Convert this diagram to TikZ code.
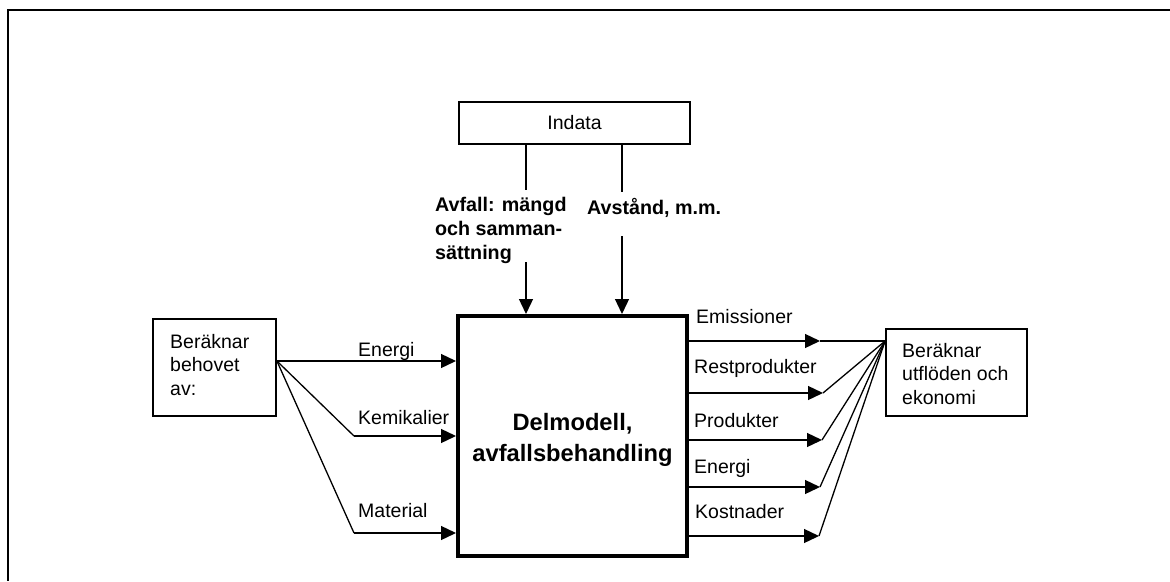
\documentclass[tikz,border=0pt]{standalone}
\usepackage{fontspec}
\setmainfont{Liberation Sans}
\usetikzlibrary{arrows.meta}
\begin{document}
\begin{tikzpicture}[x=1pt,y=-1pt,
  conn/.style={line width=1.3pt},
  arr/.style={line width=1.3pt,-{Triangle[length=15pt,width=14pt]}},
  box/.style={draw,line width=1.8pt,inner sep=0pt},
  bigbox/.style={draw,line width=4pt,inner sep=0pt},
  lbl/.style={font=\fontsize{19.5}{23.5}\selectfont,inner sep=0pt,anchor=base west},
  mlbl/.style={font=\fontsize{19.5}{23.5}\selectfont,inner sep=0pt,anchor=north west,align=left},
  blbl/.style={font=\bfseries\fontsize{19.7}{24}\selectfont,inner sep=0pt,align=left},
  title/.style={font=\bfseries\fontsize{23.7}{31}\selectfont,inner sep=0pt,align=center},
]
\useasboundingbox (0,0) rectangle (1170,581);
% frame
\draw[line width=2pt] (1170,10) -- (8,10) -- (8,581);

% boxes
\node[box,minimum width=231pt,minimum height=42pt,font=\fontsize{19.5}{23.5}\selectfont] (ind) at (574.5,123) {Indata};
\node[bigbox,minimum width=229pt,minimum height=240pt] (mb) at (572.5,436) {};
\node[box,minimum width=123pt,minimum height=97pt] (lb) at (214.5,367.5) {};
\node[box,minimum width=141pt,minimum height=87pt] (rb) at (956.5,372.5) {};

% box texts
\node[title,anchor=center] (mbtxt) at (572.5,440.4) {Delmodell,\\avfallsbehandling};
\node[mlbl] (lbtxt) at (170,333.8) {Beräknar\\behovet\\av:};
\node[mlbl] (rbtxt) at (902,342.8) {Beräknar\\utflöden och\\ekonomi};

% top inputs
\coordinate (a1) at (526,190);
\coordinate (a2) at (526,262);
\coordinate (b1) at (622,192);
\coordinate (b2) at (622,236);
\draw[conn] (ind.south -| a1) -- (a1);
\draw[arr] (a2) -- (mb.north -| a2);
\draw[conn] (ind.south -| b1) -- (b1);
\draw[arr] (b2) -- (mb.north -| b2);
\node[blbl,anchor=north west] (lavf) at (435,196.6) {Avfall: mängd\\och samman-\\sättning};
\node[blbl,anchor=base west] (lavs) at (587,214) {Avstånd, m.m.};

% left inputs
\coordinate (src) at (lb.east |- 0,361);
\coordinate (k1) at (354,436);
\coordinate (m1) at (354,533);
\draw[arr] (src) -- (mb.west |- src);
\draw[conn] (src) -- (k1);
\draw[arr] (k1) -- (mb.west |- k1);
\draw[conn] (src) -- (m1);
\draw[arr] (m1) -- (mb.west |- m1);
\node[lbl] (len) at (358,356) {Energi};
\node[lbl] (lkem) at (358,424) {Kemikalier};
\node[lbl] (lmat) at (358,517) {Material};

% right outputs
\coordinate (snk) at (rb.west |- 0,341);
\coordinate (t1) at (820,341);
\coordinate (t2) at (823,393);
\coordinate (t3) at (822,440);
\coordinate (t4) at (820,487);
\coordinate (t5) at (819,536);
\foreach \t in {t1,t2,t3,t4,t5}{
  \draw[arr] (mb.east |- \t) -- (\t);
  \draw[conn] (\t) -- (snk);
}
\node[lbl] (lemi) at (696,323) {Emissioner};
\node[lbl] (lres) at (694,373) {Restprodukter};
\node[lbl] (lpro) at (694,427) {Produkter};
\node[lbl] (lene) at (694,473) {Energi};
\node[lbl] (lkos) at (695,518) {Kostnader};
\end{tikzpicture}
\end{document}
